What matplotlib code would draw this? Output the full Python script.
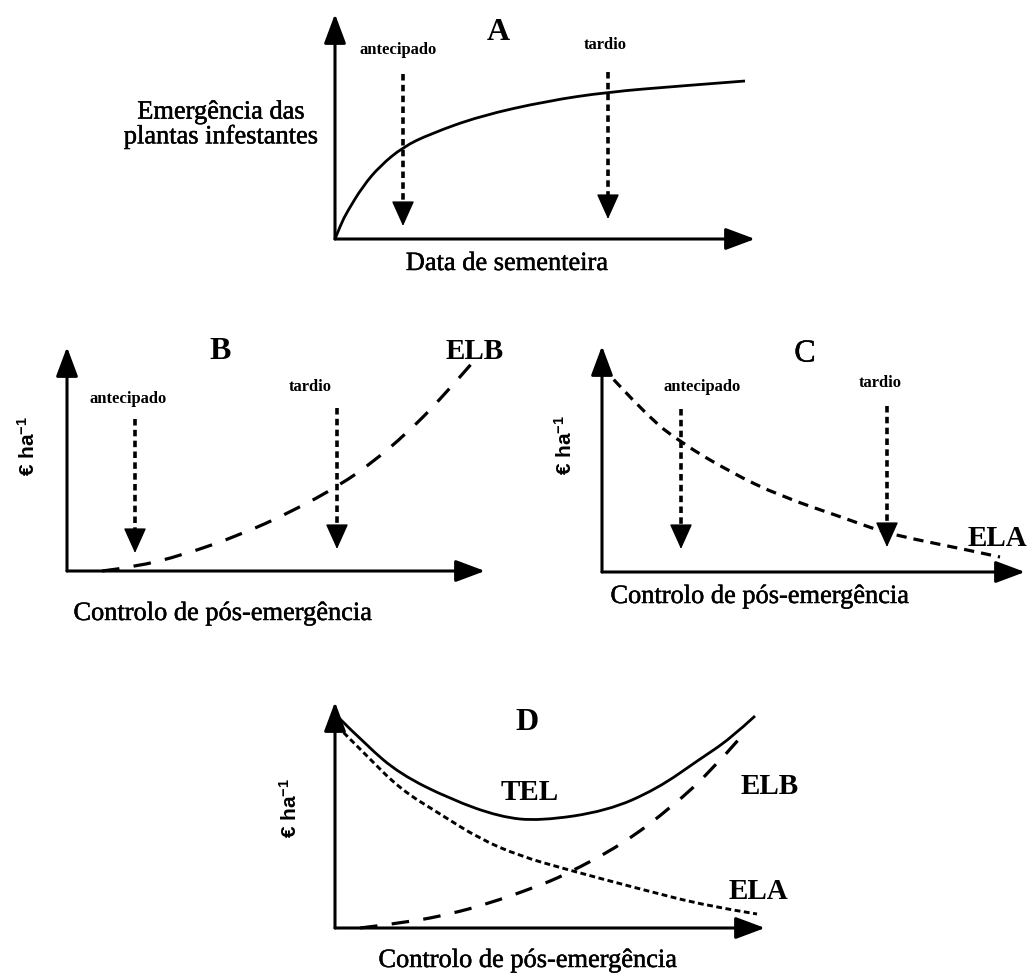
import matplotlib
matplotlib.use("Agg")
import matplotlib.pyplot as plt
import matplotlib.patheffects as pe
from matplotlib.path import Path
from matplotlib.patches import PathPatch

# ---------------------------------------------------------------------------
# Schematic curves (x along the horizontal axis, y along the vertical axis,
# both in drawing units measured from each panel's origin)
# ---------------------------------------------------------------------------
# A: cumulative weed emergence vs sowing date
emerg_x = [0, 6, 12, 28, 45, 68, 95, 145, 212, 273, 345, 410]
emerg_y = [0, 15, 27, 53, 73, 92, 105, 123, 138, 147, 153, 158]

# B: losses due to weeds (ELB) vs post-emergence control timing
elb_b_x = [35, 68, 116, 173, 226, 273, 306, 340, 373, 406]
elb_b_y = [0, 4, 16, 36, 60, 86, 109, 138, 171, 209]

# C: losses due to the crop management (ELA)
ela_c_x = [0, 45, 78, 128, 178, 245, 278, 311, 361, 398]
ela_c_y = [205, 156, 130, 100, 76, 53, 41, 33, 23, 15]

# D: both components and their total (TEL)
tel_x = [2, 32, 65, 115, 165, 205, 272, 322, 365, 395, 420]
tel_y = [212, 182, 154, 129, 111, 107, 117, 139, 169, 189, 212]
ela_d_x = [2, 32, 65, 105, 145, 185, 230, 305, 372, 422]
ela_d_y = [202, 172, 139, 114, 89, 72, 59, 39, 22, 14]
elb_d_x = [25, 75, 115, 152, 198, 230, 288, 338, 377, 405]
elb_d_y = [0, 6, 14, 24, 40, 53, 84, 122, 158, 190]

# timing arrows: (x position, top of shaft, tip)
arrows_a = {"antecipado": (68, 165, 13), "tardio": (273, 167, 20)}
arrows_b = {"antecipado": (68, 152, 18), "tardio": (270, 163, 22)}
arrows_c = {"antecipado": (79, 163, 23), "tardio": (285, 166, 25)}

W, H, DPI = 1028, 979, 100
SERIF = "Liberation Serif"
SANS = "Liberation Sans"
plt.rcParams["mathtext.fontset"] = "custom"
plt.rcParams["mathtext.rm"] = "Liberation Sans:bold"
plt.rcParams["mathtext.default"] = "rm"

fig = plt.figure(figsize=(W / DPI, H / DPI), dpi=DPI)
fig.patch.set_facecolor("white")

AXIS_LW = 2.2
INK = [pe.withStroke(linewidth=0.35, foreground="black")]


def panel(ox, oy, w, h):
    """Axes whose data units are pixels, origin at (ox, oy) in figure pixels."""
    ax = fig.add_axes([ox / W, 1 - oy / H, w / W, h / H])
    ax.set_xlim(0, w)
    ax.set_ylim(0, h)
    ax.axis("off")
    style = "-|>,head_length=0.75,head_width=0.28"
    for tip in [(0, h), (w, 0)]:
        ax.annotate("", xy=tip, xytext=(0, 0), annotation_clip=False,
                    arrowprops=dict(arrowstyle=style, lw=AXIS_LW, color="black",
                                    mutation_scale=24, shrinkA=0, shrinkB=0))
    return ax


def smooth_curve(ax, xs, ys, lw=2.0, ls="-"):
    """Quadratic-Bezier curve using the points as control points."""
    pts = list(zip(xs, ys))
    verts = [pts[0]]
    codes = [Path.MOVETO]
    for i in range(1, len(pts) - 1):
        mid = ((pts[i][0] + pts[i + 1][0]) / 2, (pts[i][1] + pts[i + 1][1]) / 2)
        if i == len(pts) - 2:
            mid = pts[-1]
        verts += [pts[i], mid]
        codes += [Path.CURVE3, Path.CURVE3]
    patch = PathPatch(Path(verts, codes), facecolor="none", edgecolor="black",
                      lw=lw, linestyle=ls, capstyle="butt", clip_on=False)
    ax.add_patch(patch)


def timing_arrow(ax, x, top, tip):
    head = 22
    ax.plot([x, x], [top, tip + head], color="black", lw=2.6,
            ls=(0, (1.8, 1.2)), solid_capstyle="butt", clip_on=False)
    ax.annotate("", xy=(x, tip), xytext=(x, tip + head), annotation_clip=False,
                arrowprops=dict(arrowstyle="-|>,head_length=0.8,head_width=0.36",
                                lw=1.0, color="black", mutation_scale=20,
                                shrinkA=0, shrinkB=0))


def txt(ax, x, y, s, size, bold=False, family=SERIF, ink=False, **kw):
    t = ax.text(x, y, s, fontsize=size, fontfamily=family,
                fontweight="bold" if bold else "normal",
                ha=kw.pop("ha", "center"), va=kw.pop("va", "center"),
                clip_on=False, **kw)
    if ink:
        t.set_path_effects(INK)


def unit_label(ax, x, y):
    txt(ax, x, y, "€ ha$^{-1}$", 15, bold=True, family=SANS, rotation=90)


MAIN = 19
SMALL = 12
LETTER = 23
CURVE_LBL = 21

# ---------------------------- Panel A ---------------------------------------
axA = panel(335, 240, 420, 225)
smooth_curve(axA, emerg_x, emerg_y, lw=2.0)
for name, (x, top, tip) in arrows_a.items():
    timing_arrow(axA, x, top, tip)
txt(axA, 63, 190, "antecipado", SMALL, bold=True)
txt(axA, 270, 195, "tardio", SMALL, bold=True)
txt(axA, 163, 207, "A", LETTER, bold=True)
txt(axA, -114, 114, "Emergência das\nplantas infestantes", MAIN,
    ink=True, linespacing=1.1)
txt(axA, 172, -25, "Data de sementeira", MAIN, ink=True)

# ---------------------------- Panel B ---------------------------------------
axB = panel(67, 572, 418, 224)
smooth_curve(axB, elb_b_x, elb_b_y, lw=2.3, ls=(0, (5.5, 4.5)))
for name, (x, top, tip) in arrows_b.items():
    timing_arrow(axB, x, top, tip)
txt(axB, 61, 173, "antecipado", SMALL, bold=True)
txt(axB, 243, 185, "tardio", SMALL, bold=True)
txt(axB, 153, 220, "B", LETTER, bold=True)
txt(axB, 408, 220, "ELB", CURVE_LBL, bold=True)
txt(axB, 156, -43, "Controlo de pós-emergência", MAIN, ink=True)
unit_label(axB, -39, 126)

# ---------------------------- Panel C ---------------------------------------
axC = panel(602, 573, 423, 226)
smooth_curve(axC, ela_c_x, ela_c_y, lw=2.3, ls=(0, (3.2, 2.2)))
for name, (x, top, tip) in arrows_c.items():
    timing_arrow(axC, x, top, tip)
txt(axC, 100, 186, "antecipado", SMALL, bold=True)
txt(axC, 278, 190, "tardio", SMALL, bold=True)
txt(axC, 203, 218, "C", LETTER, ink=True)
txt(axC, 395, 35, "ELA", CURVE_LBL, bold=True)
txt(axC, 158, -25, "Controlo de pós-emergência", MAIN, ink=True)
unit_label(axC, -37, 128)

# ---------------------------- Panel D ---------------------------------------
axD = panel(335, 929, 430, 226)
smooth_curve(axD, tel_x, tel_y, lw=2.0)
smooth_curve(axD, ela_d_x, ela_d_y, lw=2.1, ls=(0, (2, 1.2)))
smooth_curve(axD, elb_d_x, elb_d_y, lw=2.3, ls=(0, (5.5, 4.5)))
txt(axD, 192, 206, "D", LETTER, bold=True)
txt(axD, 195, 136, "TEL", CURVE_LBL, bold=True)
txt(axD, 435, 142, "ELB", CURVE_LBL, bold=True)
txt(axD, 423, 37, "ELA", CURVE_LBL, bold=True)
txt(axD, 193, -33, "Controlo de pós-emergência", MAIN, ink=True)
unit_label(axD, -45, 121)

fig.savefig("out.png", dpi=DPI, facecolor="white")
